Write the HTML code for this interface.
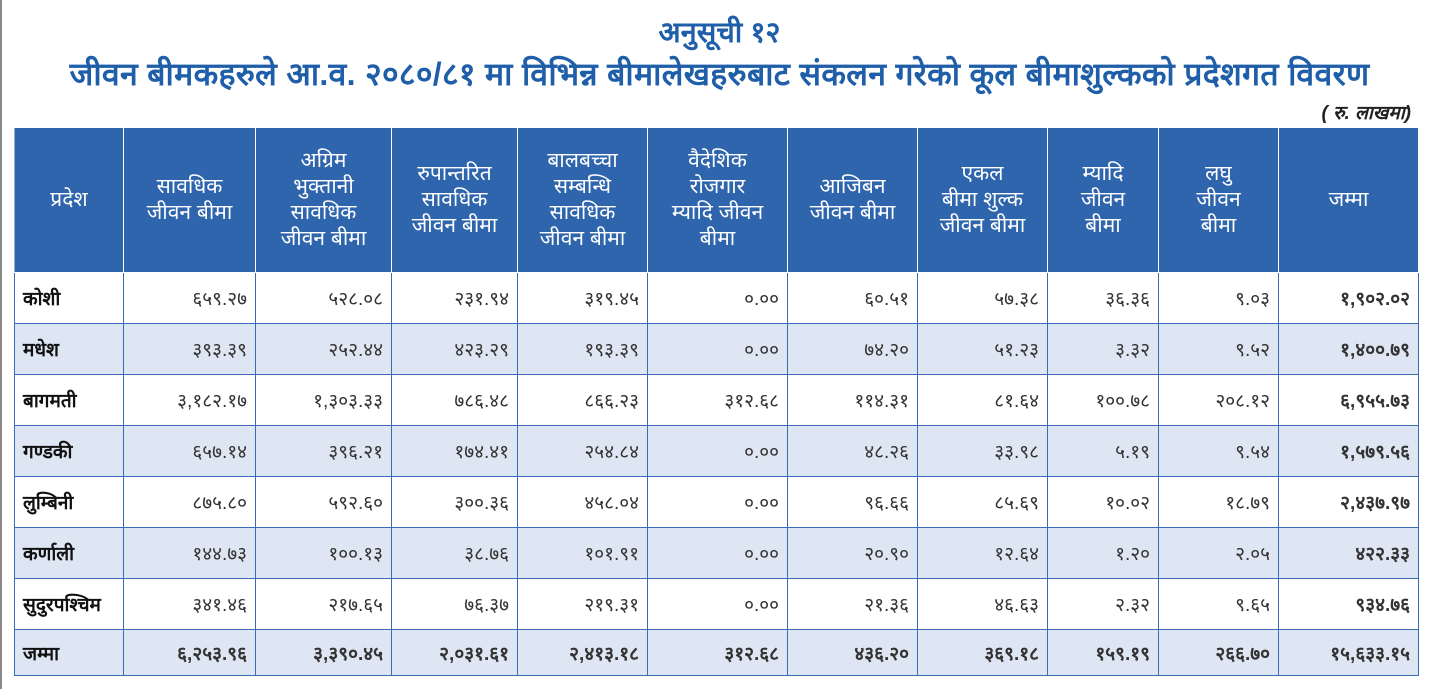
<!DOCTYPE html>
<html><head><meta charset="utf-8">
<style>
html,body{margin:0;padding:0;background:#fff;}
body{width:1439px;height:689px;position:relative;overflow:hidden;font-family:"Liberation Sans","DejaVu Sans",sans-serif;}
.lb{position:absolute;left:0;top:0;width:2px;height:689px;background:#888;}
.t1,.t2{position:absolute;left:0;width:1439px;text-align:center;color:#1f5ea8;font-weight:bold;}
.t1{top:12px;font-size:29px;}
.t2{top:52px;font-size:32px;letter-spacing:0.3px;}
.unit{position:absolute;right:28px;top:99px;font-size:19px;font-style:italic;font-weight:bold;color:#222;}
table{position:absolute;left:14px;top:127px;border-collapse:collapse;table-layout:fixed;width:1404px;}
td,th{border:1.5px solid #3a6db5;font-size:19px;color:#333;padding:0 8px;}
th{background:#2f65ad;color:#fff;font-weight:normal;height:144px;text-align:center;line-height:26px;font-size:21px;border-color:#fff;border-left-color:#8fb0dc;padding:0 4px;}
td{height:50px;text-align:right;}
td:first-child{text-align:left;font-weight:bold;color:#111;}
td:last-child{font-weight:bold;}
tr.a td{background:#dde6f2;}
tr.tot td{font-weight:bold;height:45px;}
</style></head><body>
<div class="lb"></div>
<div class="t1">अनुसूची १२</div>
<div class="t2">जीवन बीमकहरुले आ.व. २०८०/८१ मा विभिन्न बीमालेखहरुबाट संकलन गरेको कूल बीमाशुल्कको प्रदेशगत विवरण</div>
<div class="unit">( रु. लाखमा)</div>
<table>
<colgroup><col style="width:109px"><col style="width:132px"><col style="width:136px"><col style="width:126px"><col style="width:130px"><col style="width:140px"><col style="width:130px"><col style="width:130px"><col style="width:111px"><col style="width:120px"><col style="width:140px"></colgroup>
<tr><th>प्रदेश</th><th>सावधिक<br>जीवन बीमा</th><th>अग्रिम<br>भुक्तानी<br>सावधिक<br>जीवन बीमा</th><th>रुपान्तरित<br>सावधिक<br>जीवन बीमा</th><th>बालबच्चा<br>सम्बन्धि<br>सावधिक<br>जीवन बीमा</th><th>वैदेशिक<br>रोजगार<br>म्यादि जीवन<br>बीमा</th><th>आजिबन<br>जीवन बीमा</th><th>एकल<br>बीमा शुल्क<br>जीवन बीमा</th><th>म्यादि<br>जीवन<br>बीमा</th><th>लघु<br>जीवन<br>बीमा</th><th>जम्मा</th></tr>
<tr><td>कोशी</td><td>६५९.२७</td><td>५२८.०८</td><td>२३१.९४</td><td>३१९.४५</td><td>०.००</td><td>६०.५१</td><td>५७.३८</td><td>३६.३६</td><td>९.०३</td><td>१,९०२.०२</td></tr>
<tr class="a"><td>मधेश</td><td>३९३.३९</td><td>२५२.४४</td><td>४२३.२९</td><td>१९३.३९</td><td>०.००</td><td>७४.२०</td><td>५१.२३</td><td>३.३२</td><td>९.५२</td><td>१,४००.७९</td></tr>
<tr><td>बागमती</td><td>३,१८२.१७</td><td>१,३०३.३३</td><td>७८६.४८</td><td>८६६.२३</td><td>३१२.६८</td><td>११४.३१</td><td>८१.६४</td><td>१००.७८</td><td>२०८.१२</td><td>६,९५५.७३</td></tr>
<tr class="a"><td>गण्डकी</td><td>६५७.१४</td><td>३९६.२१</td><td>१७४.४१</td><td>२५४.८४</td><td>०.००</td><td>४८.२६</td><td>३३.९८</td><td>५.१९</td><td>९.५४</td><td>१,५७९.५६</td></tr>
<tr><td>लुम्बिनी</td><td>८७५.८०</td><td>५९२.६०</td><td>३००.३६</td><td>४५८.०४</td><td>०.००</td><td>९६.६६</td><td>८५.६९</td><td>१०.०२</td><td>१८.७९</td><td>२,४३७.९७</td></tr>
<tr class="a"><td>कर्णाली</td><td>१४४.७३</td><td>१००.१३</td><td>३८.७६</td><td>१०१.९१</td><td>०.००</td><td>२०.९०</td><td>१२.६४</td><td>१.२०</td><td>२.०५</td><td>४२२.३३</td></tr>
<tr><td>सुदुरपश्चिम</td><td>३४१.४६</td><td>२१७.६५</td><td>७६.३७</td><td>२१९.३१</td><td>०.००</td><td>२१.३६</td><td>४६.६३</td><td>२.३२</td><td>९.६५</td><td>९३४.७६</td></tr>
<tr class="a tot"><td>जम्मा</td><td>६,२५३.९६</td><td>३,३९०.४५</td><td>२,०३१.६१</td><td>२,४१३.१८</td><td>३१२.६८</td><td>४३६.२०</td><td>३६९.१८</td><td>१५९.१९</td><td>२६६.७०</td><td>१५,६३३.१५</td></tr>
</table>
</body></html>
